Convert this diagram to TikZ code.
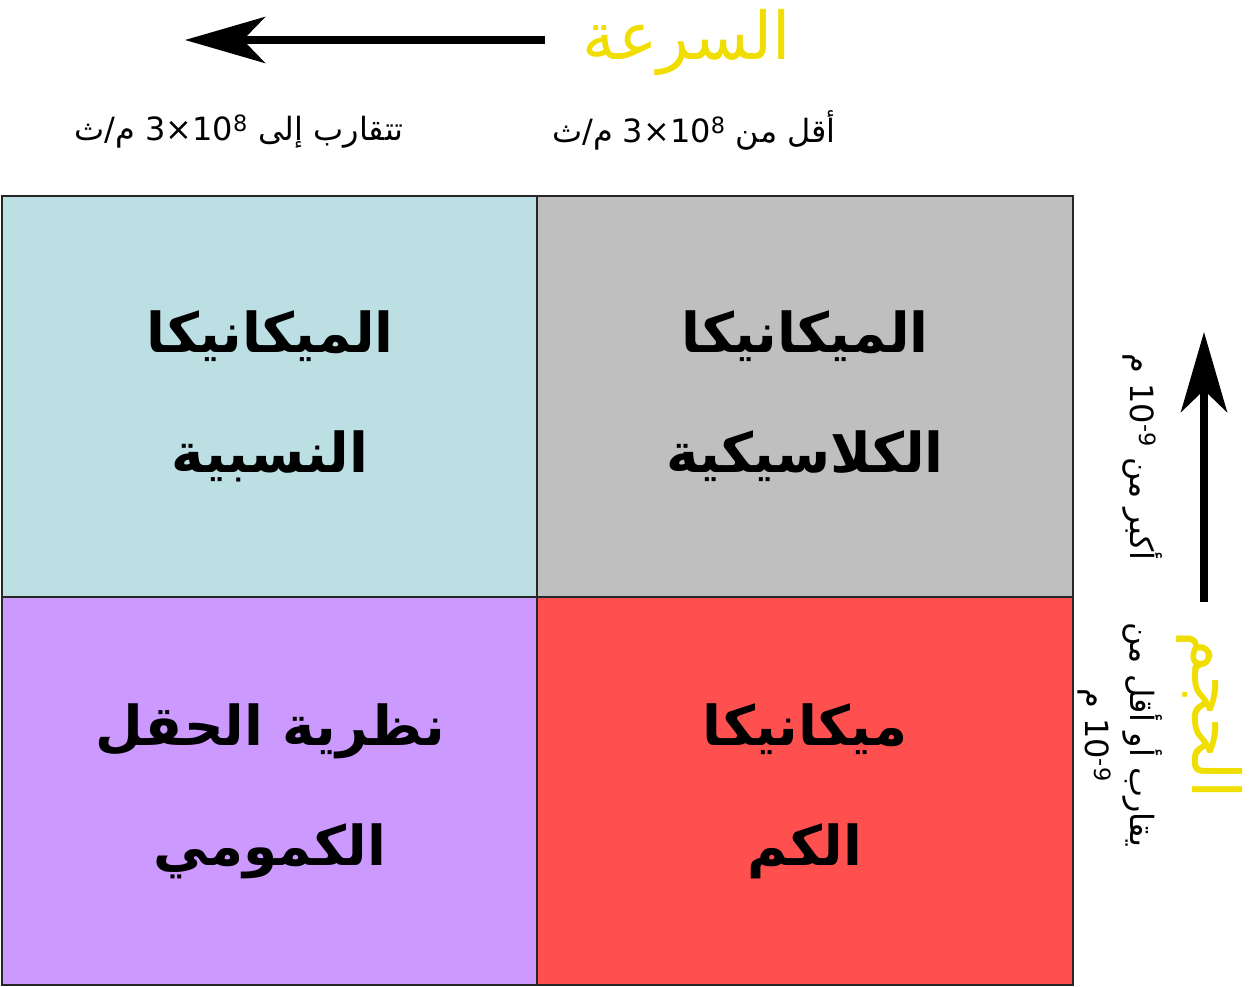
\documentclass[tikz,border=0pt]{standalone}
\usepackage{fontspec}
\setmainfont{DejaVu Sans}
\newfontfamily\arabicfont[Script=Arabic]{DejaVu Sans}
\TeXXeTstate=1
\usetikzlibrary{arrows.meta}

\definecolor{relcolor}{RGB}{187,223,227}
\definecolor{clacolor}{RGB}{191,191,191}
\definecolor{qftcolor}{RGB}{204,153,255}
\definecolor{qmcolor}{RGB}{255,80,80}
\definecolor{axisyellow}{RGB}{240,222,0}

\newcommand{\rtl}[1]{{\arabicfont\beginR #1\endR}}
\newcommand{\ltr}[1]{\beginL{\normalfont #1}\endL{}}

\begin{document}
\begin{tikzpicture}[
  x=1pt, y=-1pt,
  cell/.style={
    draw=black!85,
    line width=1.5pt,
    rectangle,
    minimum width=536pt,
    inner sep=0pt,
    align=center,
    font=\fontsize{55}{120}\selectfont\bfseries
  },
  upper/.style={cell, minimum height=401pt},
  lower/.style={cell, minimum height=388pt},
  axislabel/.style={
    inner sep=0pt,
    align=center,
    font=\fontsize{32}{45}\selectfont
  },
  axistitle/.style={
    inner sep=0pt,
    text=axisyellow,
    font=\fontsize{66}{66}\selectfont
  },
  axisarrow/.style={
    line width=8pt,
    -{Stealth[length=80pt,width=46pt,inset=22pt]}
  }
]
\useasboundingbox (0,0) rectangle (1251,987);

% the four theories
\node[upper,fill=relcolor] (relativity) at (270,396.5)
  {\rtl{الميكانيكا}\\\rtl{النسبية}};
\node[upper,fill=clacolor] (classical) at (805,396.5)
  {\rtl{الميكانيكا}\\\rtl{الكلاسيكية}};
\node[lower,fill=qftcolor] (fieldtheory) at (270,791)
  {\rtl{نظرية الحقل}\\\rtl{الكمومي}};
\node[lower,fill=qmcolor] (quantum) at (805,791)
  {\rtl{ميكانيكا}\\\rtl{الكم}};

% speed axis
\node[axistitle] (speed) at (687,42) {\rtl{السرعة}};
\coordinate (speedtail) at (545,40);
\coordinate (speedtip) at (185,40);
\draw[axisarrow] (speedtail) -- (speedtip);
\node[axislabel] (nearlight) at (239,132)
  {\rtl{تتقارب إلى \ltr{3×10\textsuperscript{8}} م/ث}};
\node[axislabel] (belowlight) at (694,130)
  {\rtl{أقل من \ltr{3×10\textsuperscript{8}} م/ث}};

% size axis
\node[axistitle,rotate=-90] (size) at (1210,715) {\rtl{الحجم}};
\coordinate (sizetail) at (1204,602);
\coordinate (sizetip) at (1204,332);
\draw[axisarrow] (sizetail) -- (sizetip);
\node[axislabel,rotate=-90] (large) at (1143,457)
  {\rtl{أكبر من \ltr{10\textsuperscript{-9}} م}};
\node[axislabel,rotate=-90] (small) at (1120,735)
  {\rtl{يقارب أو أقل من}\\\rtl{\ltr{10\textsuperscript{-9}} م}};
\end{tikzpicture}
\end{document}
